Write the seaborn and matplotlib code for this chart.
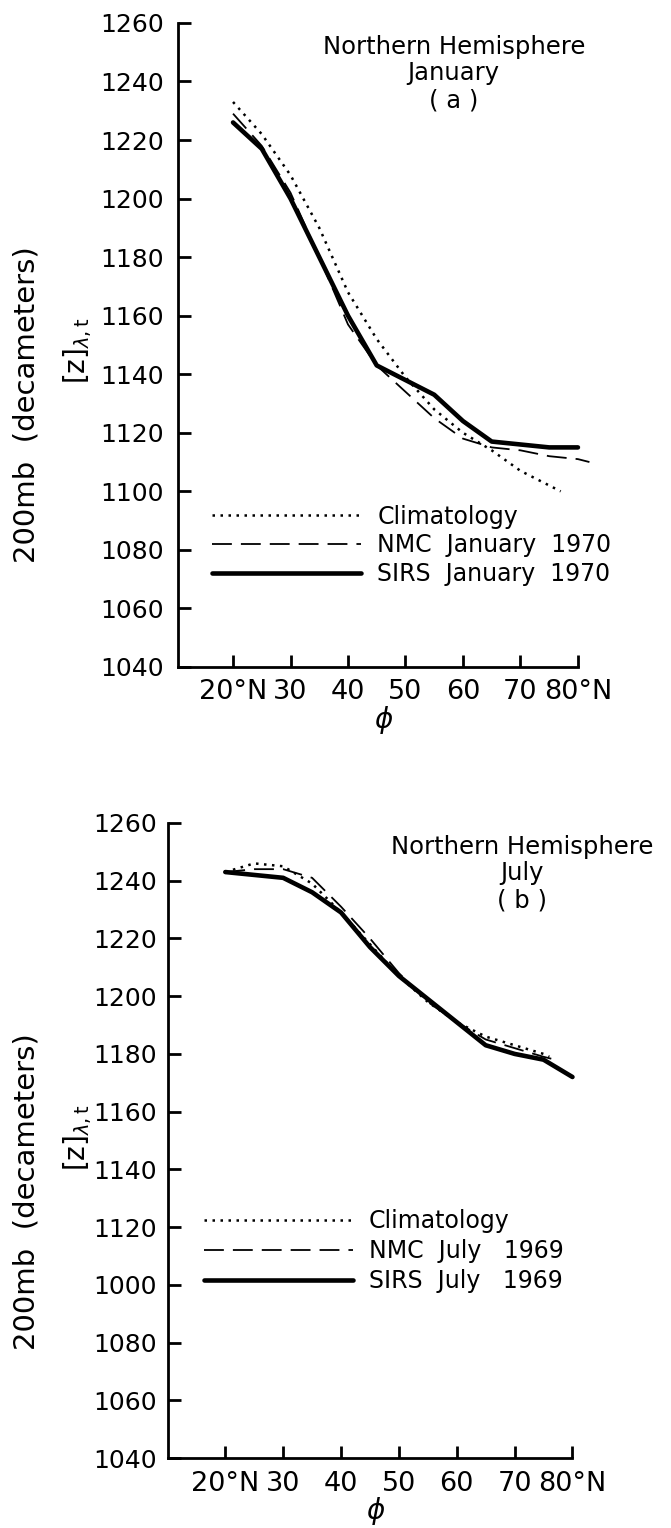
import numpy as np
import pandas as pd
import matplotlib
matplotlib.use("Agg")
import matplotlib.pyplot as plt
import seaborn as sns

# Panel (a): January
lat_clim_a = [20, 25, 30, 35, 40, 45, 50, 55, 60, 65, 70, 75, 77]
clim_a = [1233, 1222, 1208, 1190, 1168, 1152, 1139, 1128, 1120, 1114, 1107, 1102, 1100]
lat_nmc_a = [20, 25, 30, 35, 40, 45, 50, 55, 60, 65, 70, 75, 80, 82]
nmc_a = [1229, 1218, 1202, 1180, 1157, 1143, 1134, 1125, 1118, 1115, 1114, 1112, 1111, 1110]
lat_sirs_a = [20, 25, 30, 35, 40, 45, 50, 55, 60, 65, 70, 75, 80]
sirs_a = [1226, 1217, 1200, 1180, 1160, 1143, 1138, 1133, 1124, 1117, 1116, 1115, 1115]

# Panel (b): July
lat_clim_b = [20, 25, 30, 35, 40, 45, 50, 55, 60, 65, 70, 75, 76]
clim_b = [1243, 1246, 1245, 1239, 1229, 1218, 1207, 1198, 1191, 1186, 1183, 1180, 1179]
lat_nmc_b = [20, 25, 30, 35, 40, 45, 50, 55, 60, 65, 70, 75, 77]
nmc_b = [1243, 1244, 1244, 1241, 1231, 1220, 1208, 1198, 1191, 1185, 1182, 1179, 1178]
lat_sirs_b = [20, 25, 30, 35, 40, 45, 50, 55, 60, 65, 70, 75, 80]
sirs_b = [1243, 1242, 1241, 1236, 1229, 1217, 1207, 1199, 1191, 1183, 1180, 1178, 1172]

x_ticks = [20, 30, 40, 50, 60, 70, 80]
x_labels = ["20°N", "30", "40", "50", "60", "70", "80°N"]
y_ticks = list(range(1040, 1261, 20))
y_labels_a = [str(v) for v in y_ticks]
y_labels_b = [str(v) for v in y_ticks]
y_labels_b[3] = "1000"  # as printed in the original figure

legend_a = ["Climatology", "NMC  January  1970", "SIRS  January  1970"]
legend_b = ["Climatology", "NMC  July   1969", "SIRS  July   1969"]

sns.set_style("ticks")
plt.rcParams["font.family"] = ["DejaVu Sans"]
plt.rcParams.update({"text.color": "black", "axes.labelcolor": "black",
                     "xtick.color": "black", "ytick.color": "black",
                     "axes.edgecolor": "black"})

fig = plt.figure(figsize=(6.71, 15.28), dpi=100)
ax_a = fig.add_axes([0.2653, 0.5635, 0.614, 0.4215])
ax_b = fig.add_axes([0.2504, 0.0458, 0.620, 0.4156])


def draw_panel(ax, lats, vals, labels, xlim, ylabels, ypad, leg_anchor, leg_space, title, title_xy):
    (lc, lnm, ls), (vc, vnm, vs) = lats, vals
    sns.lineplot(x=lc, y=vc, ax=ax, color="black", lw=1.8,
                 linestyle=(0, (1, 2.2)), label=labels[0])
    sns.lineplot(x=lnm, y=vnm, ax=ax, color="black", lw=1.3,
                 linestyle=(0, (11, 5)), label=labels[1])
    sns.lineplot(x=ls, y=vs, ax=ax, color="black", lw=3.3,
                 solid_capstyle="round", label=labels[2])
    ax.set_xlim(*xlim)
    ax.set_ylim(1040, 1260)
    ax.set_xticks(x_ticks)
    ax.set_xticklabels(x_labels, fontsize=19.5)
    ax.set_yticks(y_ticks)
    ax.set_yticklabels(ylabels, fontsize=18)
    ax.tick_params(axis="x", direction="in", length=9, width=2, pad=9)
    ax.tick_params(axis="y", direction="in", length=9, width=2, pad=ypad)
    for s in ["top", "right"]:
        ax.spines[s].set_visible(False)
    for s in ["left", "bottom"]:
        ax.spines[s].set_linewidth(2)
    ax.spines["bottom"].set_bounds(xlim[0], 80)
    ax.set_xlabel(r"$\phi$", fontsize=20, labelpad=-1)
    ax.set_ylabel("")
    ax.legend(frameon=False, loc="upper left", bbox_to_anchor=leg_anchor,
              borderaxespad=0, borderpad=0, fontsize=17, handlelength=6.3,
              handletextpad=0.7, labelspacing=leg_space)
    ax.text(title_xy[0], title_xy[1], title, ha="center", va="top",
            fontsize=17.5, linespacing=1.15)


draw_panel(ax_a, (lat_clim_a, lat_nmc_a, lat_sirs_a), (clim_a, nmc_a, sirs_a),
           legend_a, (10.43, 82.1), y_labels_a, 10, (0.0825, 0.252), 0.2,
           "Northern Hemisphere\nJanuary\n( a )", (58.4, 1256))
draw_panel(ax_b, (lat_clim_b, lat_nmc_b, lat_sirs_b), (clim_b, nmc_b, sirs_b),
           legend_b, (10.1, 82.0), y_labels_b, 8, (0.086, 0.392), 0.25,
           "Northern Hemisphere\nJuly\n( b )", (71.3, 1256))

for yc, yz in [(405, 350), (1192, 1137)]:
    fig.text(27 / 671, 1 - yc / 1528, "200mb  (decameters)", rotation=90,
             ha="center", va="center", fontsize=21)
    fig.text(78 / 671, 1 - yz / 1528, r"$[\mathrm{z}]_{\lambda,\mathrm{t}}$", rotation=90,
             ha="center", va="center", fontsize=20)

fig.savefig("out.png", dpi=100)
